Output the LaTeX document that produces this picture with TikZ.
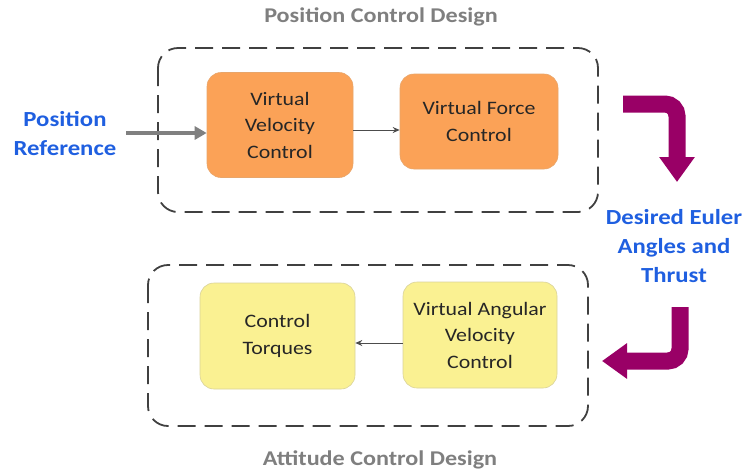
\documentclass[tikz,border=0pt]{standalone}
\usepackage{fontspec}
\setmainfont{Carlito}[FakeStretch=1.15]
\usetikzlibrary{arrows.meta}
\definecolor{orangefill}{HTML}{FBA257}
\definecolor{orangeline}{HTML}{E8A56A}
\definecolor{yellowfill}{HTML}{FAF192}
\definecolor{yellowline}{HTML}{D9D29A}
\definecolor{bluetext}{HTML}{1F5FE0}
\definecolor{graytitle}{HTML}{7F7F7F}
\definecolor{purplearrow}{HTML}{990066}
\definecolor{boxtext}{HTML}{262626}
\begin{document}
\begin{tikzpicture}[x=1pt,y=-1pt,
  groupbox/.style={draw=black!75, line width=1.8pt, dash pattern=on 18pt off 9pt, rounded corners=20pt},
  obox/.style={draw=orangeline, fill=orangefill, rounded corners=14pt, line width=0.6pt, text=boxtext, font=\fontsize{19}{26.5}\selectfont, align=center, inner sep=0pt},
  ybox/.style={draw=yellowline, fill=yellowfill, rounded corners=14pt, line width=0.6pt, text=boxtext, font=\fontsize{19}{26.5}\selectfont, align=center, inner sep=0pt},
  bluelabel/.style={text=bluetext, font=\fontsize{21.5}{29}\selectfont\bfseries, align=center},
  titlelabel/.style={text=graytitle, font=\fontsize{21}{25}\selectfont\bfseries},
  smallarrow/.style={draw=black!70, line width=1pt, -{Stealth[length=7pt,width=6pt]}},
  bigpurple/.style={draw=purplearrow, line width=17pt, rounded corners=12pt, -{Triangle[width=34pt,length=25pt]}}
]
\useasboundingbox (0,0) rectangle (750,475);

% group boxes
\draw[groupbox] (158,48) rectangle (598,212);
\draw[groupbox] (148,265) rectangle (588,426);

% titles
\node[titlelabel] (t1) at (381,17) {Position Control Design};
\node[titlelabel] (t2) at (380,460) {Attitude Control Design};

% orange boxes
\node[obox, minimum width=146pt, minimum height=105pt] (vv) at (280,125) {Virtual\\Velocity\\Control};
\node[obox, minimum width=158pt, minimum height=95pt] (vf) at (479,121.5) {Virtual Force\\Control};

% yellow boxes
\node[ybox, minimum width=155pt, minimum height=106pt] (ct) at (277.5,336) {Control\\Torques};
\node[ybox, minimum width=154pt, minimum height=106pt] (va) at (480,335) {Virtual Angular\\Velocity\\Control};

% labels
\node[bluelabel] (pr) at (65,134) {Position\\Reference};
\node[bluelabel] (de) at (674,246) {Desired Euler\\Angles and\\Thrust};

% arrows
\coordinate (prs) at (126,133);
\draw[draw=black!50, line width=4pt, -{Triangle[width=13pt,length=12pt]}] (prs) -- (vv.west |- prs);
\draw[smallarrow] (vv.east |- 0,130) -- (vf.west |- 0,130);
\draw[smallarrow] (va.west |- 0,343) -- (ct.east |- 0,343);

% purple bent arrows
\coordinate (p1) at (623,104);
\coordinate (p2) at (677,104);
\coordinate (p3) at (677,182);
\draw[bigpurple] (p1) -- (p2) -- (p3);
\coordinate (q1) at (680,307);
\coordinate (q2) at (680,361);
\coordinate (q3) at (602,361);
\draw[bigpurple] (q1) -- (q2) -- (q3);
\end{tikzpicture}
\end{document}
